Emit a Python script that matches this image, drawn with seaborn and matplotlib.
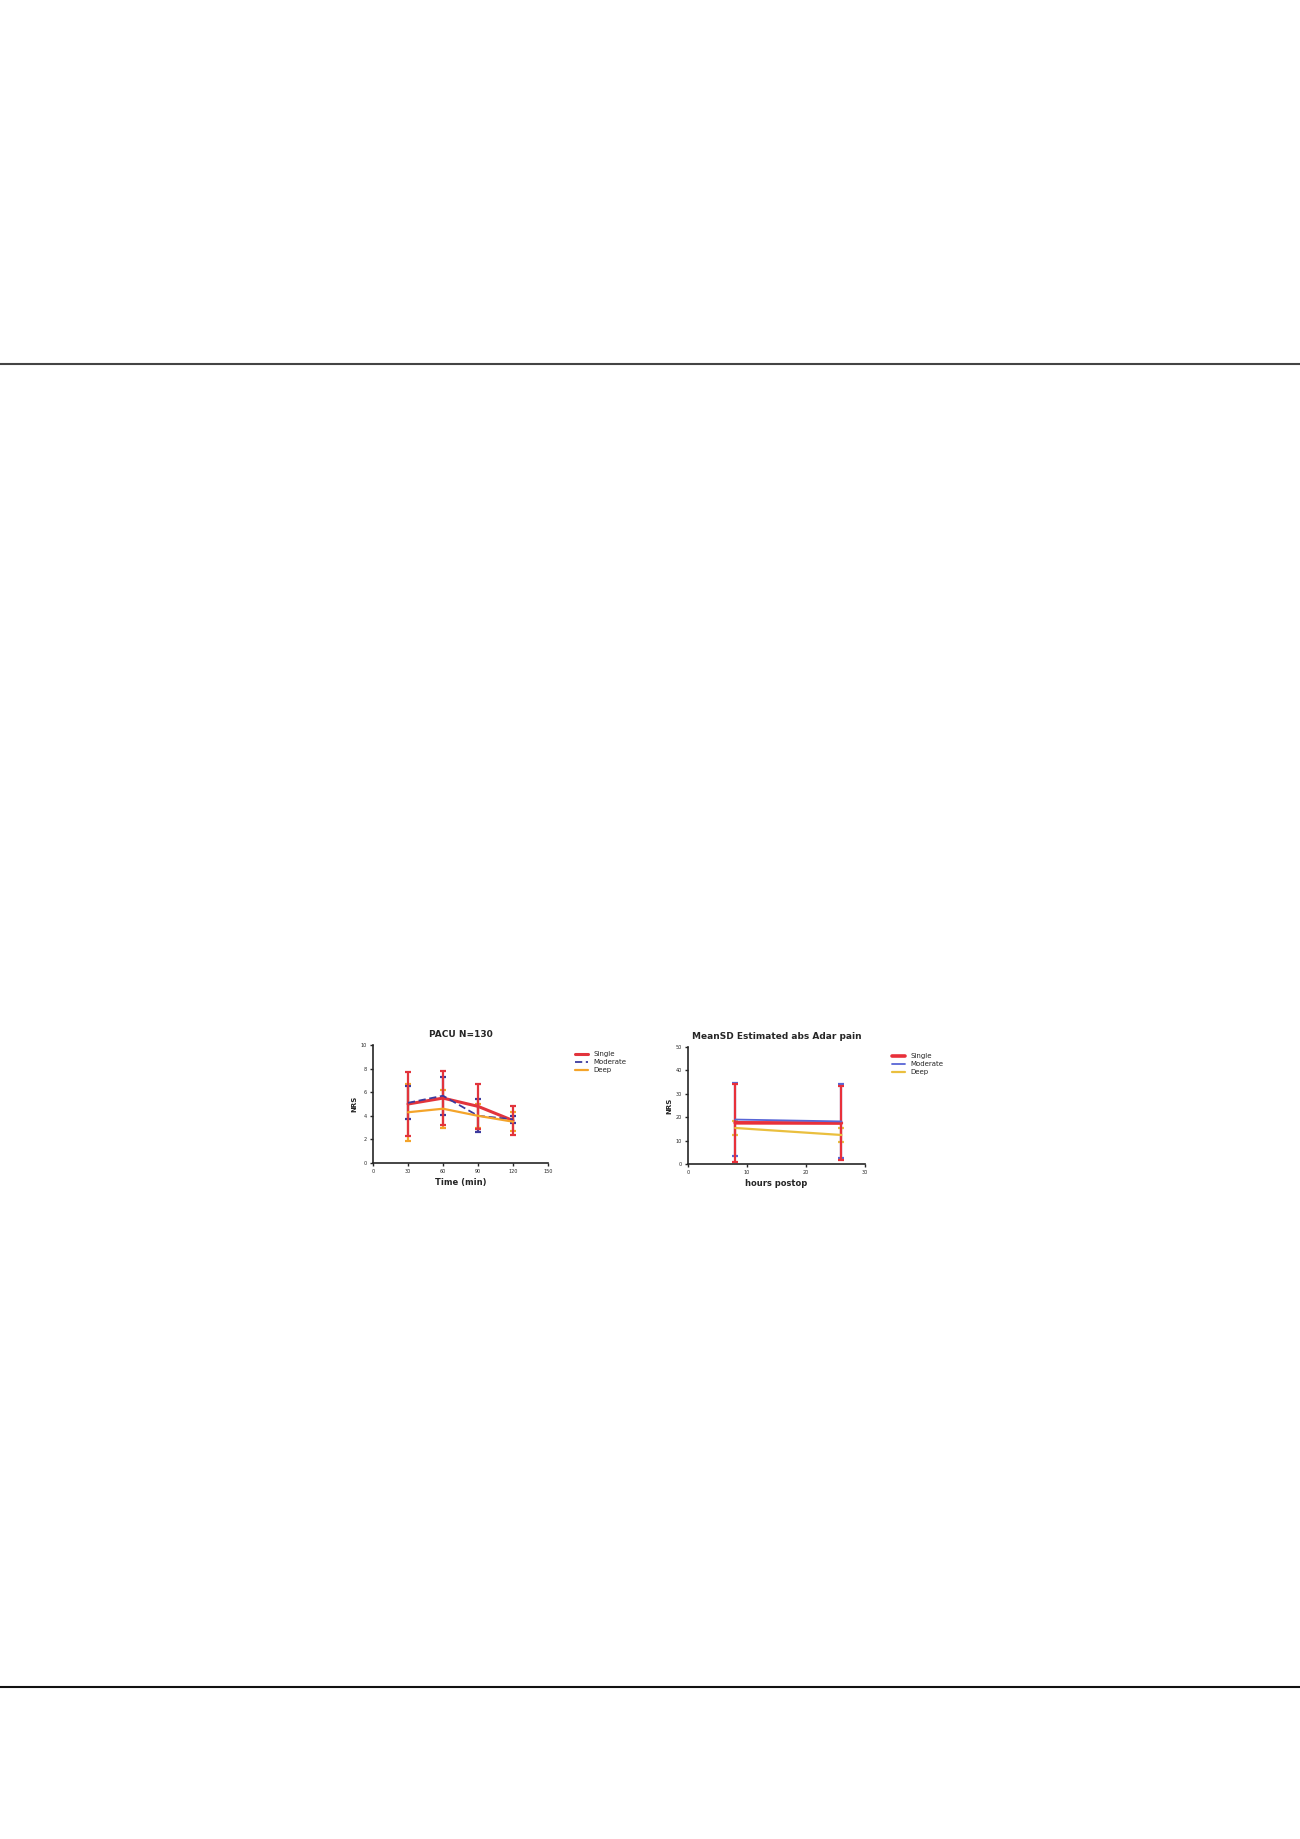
import numpy as np
import pandas as pd
import seaborn as sns
import matplotlib.pyplot as plt
from matplotlib.lines import Line2D

# left panel: PACU
pacu_time = [30, 60, 90, 120]
pacu_single = [5.0, 5.5, 4.8, 3.6]
pacu_single_sd = [2.7, 2.3, 1.9, 1.2]
pacu_moderate = [5.1, 5.7, 4.0, 3.7]
pacu_moderate_sd = [1.4, 1.6, 1.4, 0.3]
pacu_deep = [4.3, 4.6, 4.0, 3.5]
pacu_deep_sd = [2.4, 1.6, 1.0, 0.8]
pacu_xticks = [0, 30, 60, 90, 120, 150]

# right panel: hours postop
post_time = [8, 26]
post_single = [17.6, 17.5]
post_single_sd = [16.8, 16.0]
post_moderate = [19.0, 18.2]
post_moderate_sd = [15.5, 15.8]
post_deep = [15.4, 12.4]
post_deep_sd = [3.0, 3.0]

groups = ["Single", "Moderate", "Deep"]

sns.set_theme(style="ticks")
plt.rcParams['font.family'] = ['DejaVu Sans']

fig = plt.figure(figsize=(13, 18.39), dpi=100)

# page rules
fig.add_artist(Line2D([0, 1], [1 - 364 / 1839] * 2, color="#444444", lw=1.5))
fig.add_artist(Line2D([0, 1], [1 - 1687 / 1839] * 2, color="#111111", lw=1.5))


def long_frame(x, series):
    rows = []
    for g, vals in zip(groups, series):
        for xi, v in zip(x, vals):
            rows.append({"t": xi, "val": v, "grp": g})
    return pd.DataFrame(rows)


def panel(ax, x, means, sds, colors, widths, dashes, title, xlabel, ylabel):
    df = long_frame(x, means)
    # single drawn last so its bars sit in front
    for k, (g, sd, c) in enumerate(list(zip(groups, sds, colors))[::-1]):
        sub = df[df.grp == g]
        ax.errorbar(sub.t, sub.val, yerr=sd, fmt="none", ecolor=c,
                    elinewidth=1.6, capsize=2.5, capthick=1.6, zorder=2 + k * 0.1)
    sns.lineplot(data=df, x="t", y="val", hue="grp", style="grp",
                 palette=dict(zip(groups, colors)),
                 dashes=dict(zip(groups, dashes)),
                 size="grp", sizes=dict(zip(groups, widths)),
                 ax=ax, zorder=3)
    ax.set_title(title, fontsize=6.5, fontweight="bold", pad=6)
    ax.set_xlabel(xlabel, fontsize=6, fontweight="bold", labelpad=3)
    ax.set_ylabel(ylabel, fontsize=5, fontweight="bold", labelpad=2)
    ax.tick_params(labelsize=3.5, length=2.5, width=1, pad=2)
    for s in ["left", "bottom"]:
        ax.spines[s].set_linewidth(1.2)
    sns.despine(ax=ax)
    h, l = ax.get_legend_handles_labels()
    ax.legend(h[:3], l[:3], loc="upper left", bbox_to_anchor=(1.12, 1.0),
              frameon=False, fontsize=5, handlelength=1.8, labelspacing=0.3)


ax1 = fig.add_axes([373 / 1300, 1 - 1163 / 1839, 175 / 1300, 118 / 1839])
panel(ax1, pacu_time,
      [pacu_single, pacu_moderate, pacu_deep],
      [pacu_single_sd, pacu_moderate_sd, pacu_deep_sd],
      ["#e2343c", "#3b3a9e", "#f4a42a"], [2.2, 1.3, 1.6],
      ["", (4, 2), ""],
      "PACU N=130", "Time (min)", "NRS")
ax1.set_xlim(0, 150)
ax1.set_xticks(pacu_xticks)
ax1.set_ylim(0, 10)
ax1.set_yticks([0, 2, 4, 6, 8, 10])

ax2 = fig.add_axes([688 / 1300, 1 - 1164 / 1839, 177 / 1300, 117 / 1839])
panel(ax2, post_time,
      [post_single, post_moderate, post_deep],
      [post_single_sd, post_moderate_sd, post_deep_sd],
      ["#e8303a", "#5866d6", "#eabf3e"], [2.6, 1.3, 1.6],
      ["", "", ""],
      "MeanSD Estimated abs Adar pain", "hours postop", "NRS")
ax2.set_xlim(0, 30)
ax2.set_xticks([0, 10, 20, 30])
ax2.set_ylim(0, 50)
ax2.set_yticks([0, 10, 20, 30, 40, 50])

fig.savefig("out.png", dpi=100)
